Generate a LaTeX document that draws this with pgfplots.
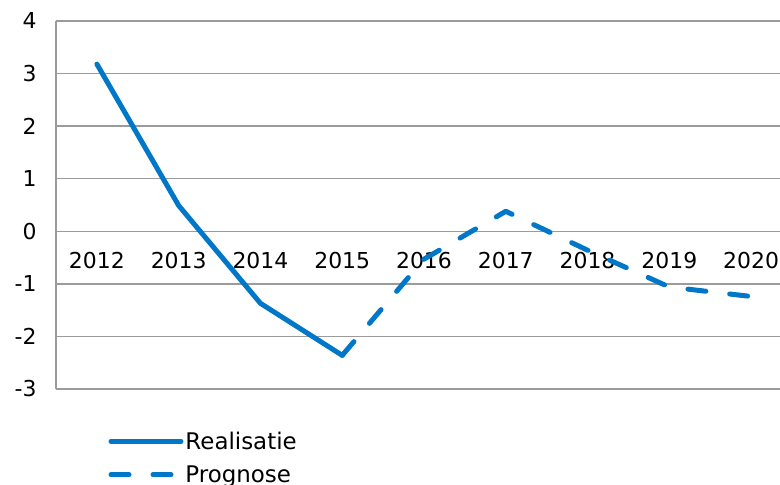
\documentclass[border=0pt]{standalone}
\usepackage{fontspec}
\setmainfont{DejaVu Sans}
\usepackage{pgfplots}
\pgfplotsset{compat=1.18}
\definecolor{lijn}{RGB}{0,119,200}
\definecolor{raster}{RGB}{155,155,155}

\begin{document}
\begin{tikzpicture}
\begin{axis}[
  at={(56bp,96bp)}, anchor=south west,
  scale only axis,
  width=736bp, height=368bp,
  xmin=-0.5, xmax=8.5,
  ymin=-3, ymax=4,
  axis x line*=middle,
  axis y line*=left,
  axis line style={draw=raster, line width=1.5bp, -},
  xtick={0,...,8},
  xticklabels={2012,2013,2014,2015,2016,2017,2018,2019,2020},
  ytick={-3,-2,...,4},
  yticklabels={-3,-2,-1,0,1,2,3,4},
  major tick length=0pt,
  ymajorgrids,
  grid style={draw=raster, line width=1.5bp},
  tick label style={font=\fontsize{22}{26}\selectfont, text=black},
  xticklabel style={yshift=-17bp},
  yticklabel style={xshift=-16bp},
  clip=false,
  legend style={draw=none, fill=none, at={(0.067,-0.105)}, anchor=north west,
    font=\fontsize{23}{27}\selectfont, row sep=11bp,
    /tikz/every even column/.append style={column sep=9bp}},
  legend cell align=left,
  legend image code/.code={\draw[#1] (0bp,0bp) -- (70bp,0bp);},
]
\addplot[lijn, line width=5bp, line cap=round, line join=round] coordinates {
  (0,3.18) (1,0.49) (2,-1.37) (3,-2.36)
};
\addlegendentry{Realisatie}
\addplot[lijn, line width=5bp, line cap=round, line join=round,
  dash pattern=on 18bp off 24bp] coordinates {
  (3,-2.36) (4,-0.53) (5,0.38) (6,-0.36) (7,-1.06) (8,-1.24)
};
\addlegendentry{Prognose}
\end{axis}
\pgfresetboundingbox
\useasboundingbox (0,0) rectangle (780bp,485bp);
\end{tikzpicture}
\end{document}
